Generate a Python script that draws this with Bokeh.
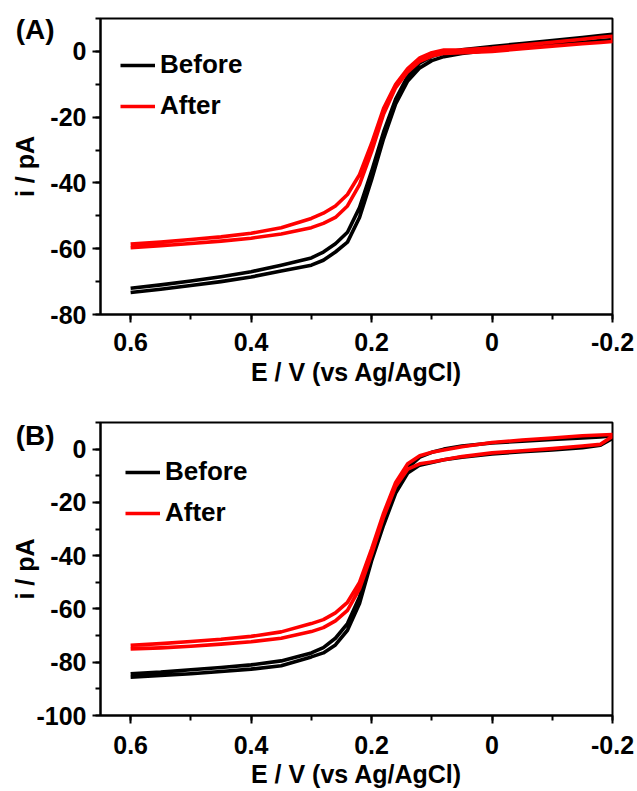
from bokeh.plotting import figure
from bokeh.models import Range1d, FixedTicker, Legend, LegendItem, LinearAxis
from bokeh.layouts import column
from bokeh.embed import file_html
from bokeh.resources import INLINE

# ---- data ----
E = [0.6, 0.55, 0.5, 0.45, 0.4, 0.35, 0.3, 0.28, 0.26, 0.24, 0.22, 0.2,
     0.18, 0.16, 0.14, 0.12, 0.1, 0.08, 0.05, 0.0, -0.05, -0.1, -0.15, -0.18, -0.2]

# Panel A (upper branch = forward sweep, lower branch = return sweep)
A_before_upper = [-72.0, -71.0, -69.8, -68.5, -67.0, -65.0, -62.8, -61.0, -58.5, -55.0, -47.5, -36.5,
                  -24.5, -14.5, -7.5, -3.5, -1.5, -0.4, 0.5, 1.5, 2.4, 3.3, 4.2, 4.8, 5.2]
A_before_lower = [-73.3, -72.3, -71.2, -70.0, -68.6, -66.8, -65.0, -63.5, -61.0, -58.0, -50.5, -39.0,
                  -26.5, -16.0, -9.0, -5.0, -2.8, -1.6, -0.6, 0.4, 1.2, 2.0, 2.8, 3.3, 3.6]
A_after_upper = [-58.6, -58.0, -57.2, -56.4, -55.3, -53.6, -50.8, -49.2, -47.0, -43.5, -37.5, -28.0,
                 -17.3, -10.0, -5.2, -2.0, -0.4, 0.4, 0.5, 1.0, 1.9, 2.8, 3.7, 4.3, 4.6]
A_after_lower = [-59.7, -59.1, -58.4, -57.7, -56.8, -55.5, -53.6, -52.3, -50.5, -47.0, -40.5, -30.5,
                 -19.0, -11.0, -6.2, -3.0, -1.4, -0.6, -0.4, 0.0, 0.8, 1.6, 2.3, 2.7, 3.0]

# Panel B
B_before_upper = [-84.3, -83.7, -82.8, -82.0, -81.0, -79.5, -76.5, -74.5, -71.0, -65.5, -55.5, -40.0,
                  -26.5, -14.5, -7.0, -3.0, -1.2, 0.0, 1.2, 2.3, 3.0, 3.6, 4.2, 4.6, 5.0]
B_before_lower = [-85.6, -85.0, -84.3, -83.5, -82.6, -81.3, -78.0, -76.5, -73.5, -68.0, -58.0, -42.0,
                  -28.5, -16.5, -9.0, -6.0, -5.0, -4.0, -3.0, -1.8, -1.0, -0.3, 0.5, 1.5, 4.0]
B_after_upper = [-73.6, -73.0, -72.2, -71.4, -70.3, -68.6, -65.5, -64.0, -61.5, -57.5, -50.0, -37.5,
                 -24.0, -12.5, -5.5, -2.5, -1.2, -0.3, 0.9, 2.5, 3.4, 4.2, 5.0, 5.3, 5.5]
B_after_lower = [-75.0, -74.6, -74.0, -73.2, -72.3, -71.0, -68.5, -67.0, -64.5, -60.5, -52.5, -39.5,
                 -25.5, -14.0, -7.5, -5.5, -4.8, -4.0, -2.8, -1.4, -0.6, 0.2, 1.2, 1.8, 4.8]

x_ticks = [0.6, 0.4, 0.2, 0.0, -0.2]
x_tick_labels = ["0.6", "0.4", "0.2", "0", "-0.2"]
x_minor = [0.6, 0.5, 0.4, 0.3, 0.2, 0.1, 0.0, -0.1, -0.2]
A_y_ticks = [-80, -60, -40, -20, 0]
A_y_tick_labels = ["-80", "-60", "-40", "-20", "0"]
A_y_minor = [-80, -70, -60, -50, -40, -30, -20, -10, 0, 10]
B_y_ticks = [-100, -80, -60, -40, -20, 0]
B_y_tick_labels = ["-100", "-80", "-60", "-40", "-20", "0"]
B_y_minor = [-100, -90, -80, -70, -60, -50, -40, -30, -20, -10, 0, 10]
series_names = ["Before", "After"]
series_colors = ["black", "#ff0000"]
panel_tags = ["(A)", "(B)"]

FONT = "Liberation Sans"


def loop(upper, lower):
    return E + E[::-1], upper + lower[::-1]


def style_text_axis(ax):
    ax.major_label_text_font = FONT
    ax.major_label_text_font_style = "bold"
    ax.major_label_text_color = "black"


def make_panel(tag, tag_y, curves, yr, yticks, ylabels, yminor, height, mb_top, mb_bottom,
               ylabel_standoff, xlabel_standoff, xtitle_standoff, legend_loc):
    p = figure(width=635, height=height, output_backend="svg", toolbar_location=None,
               x_range=Range1d(0.65, -0.2), y_range=Range1d(*yr),
               min_border_left=100, min_border_right=23,
               min_border_top=mb_top, min_border_bottom=mb_bottom)
    p.grid.visible = False
    p.outline_line_color = "black"
    p.outline_line_width = 2
    p.background_fill_color = "white"
    p.border_fill_color = "white"

    renderers = []
    for (up, lo), col in zip(curves, series_colors):
        xs, ys = loop(up, lo)
        r = p.line(xs, ys, line_color=col, line_width=3.6, line_join="round")
        renderers.append(r)

    for ax in (p.xaxis[0], p.yaxis[0]):
        ax.axis_line_width = 2
        ax.major_tick_line_width = 2
        ax.minor_tick_line_width = 2
        ax.major_tick_out = 8
        ax.major_tick_in = 0
        ax.minor_tick_out = 5
        ax.minor_tick_in = 0
        style_text_axis(ax)
        ax.major_label_text_font_size = "25px"
        ax.axis_label_text_font = FONT
        ax.axis_label_text_font_style = "bold"
        ax.axis_label_text_font_size = "25px"
        ax.axis_label_text_color = "black"

    p.xaxis.ticker = FixedTicker(ticks=x_ticks, minor_ticks=x_minor)
    p.xaxis.major_label_overrides = {t: s for t, s in zip(x_ticks, x_tick_labels)}
    p.xaxis.axis_label = "E / V (vs Ag/AgCl)"
    p.xaxis.major_label_standoff = xlabel_standoff
    p.xaxis.axis_label_standoff = xtitle_standoff

    main_y = p.yaxis[0]
    main_y.ticker = FixedTicker(ticks=yticks, minor_ticks=yminor)
    main_y.major_label_overrides = {t: s for t, s in zip(yticks, ylabels)}
    main_y.axis_label = "i / pA"
    main_y.major_label_standoff = 6
    main_y.axis_label_standoff = ylabel_standoff

    # panel tag "(A)" / "(B)" drawn as the only label of an invisible outer axis
    tag_axis = LinearAxis(ticker=FixedTicker(ticks=[tag_y], minor_ticks=[]),
                          major_label_overrides={tag_y: tag},
                          axis_line_color=None, major_tick_line_color=None,
                          minor_tick_line_color=None,
                          major_tick_out=0, major_tick_in=0, minor_tick_out=0, minor_tick_in=0,
                          major_label_standoff=-46, major_label_text_font_size="28px")
    style_text_axis(tag_axis)
    p.add_layout(tag_axis, "left")

    legend = Legend(items=[LegendItem(label=n, renderers=[r]) for n, r in zip(series_names, renderers)],
                    location=legend_loc, padding=0, margin=0, spacing=10,
                    glyph_width=35, glyph_height=30, label_height=30, label_standoff=5,
                    label_text_font=FONT, label_text_font_style="bold",
                    label_text_font_size="26px", label_text_color="black",
                    background_fill_alpha=0, border_line_alpha=0)
    p.add_layout(legend)
    return p


pA = make_panel(panel_tags[0], 6.6, [(A_before_upper, A_before_lower), (A_after_upper, A_after_lower)],
                (-80, 10), A_y_ticks, A_y_tick_labels, A_y_minor, 392, 18, 78, 8, 10, 4, (20, 193))
pB = make_panel(panel_tags[1], 5.2, [(B_before_upper, B_before_lower), (B_after_upper, B_after_lower)],
                (-100, 10), B_y_ticks, B_y_tick_labels, B_y_minor, 398, 30, 73, -6, 12, 3, (25, 187))

layout = column(pA, pB, spacing=0)
open("out.html", "w").write(file_html(layout, INLINE))
